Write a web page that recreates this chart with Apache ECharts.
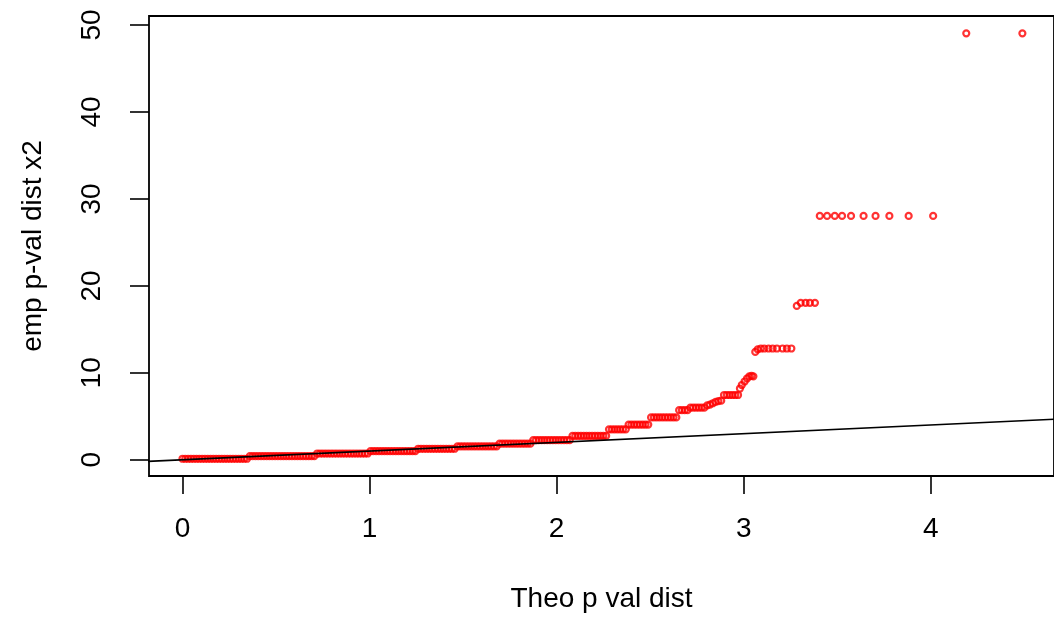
<!DOCTYPE html>
<html>
<head>
<meta charset="utf-8">
<script src="https://cdn.jsdelivr.net/npm/echarts@6/dist/echarts.min.js"></script>
<style>
  html, body { margin: 0; padding: 0; background: #ffffff; }
  #chart { width: 1054px; height: 618px; }
</style>
</head>
<body>
<div id="chart"></div>
<script>
// Tick positions on both axes
const xTicks = [0, 1, 2, 3, 4];
const yTicks = [0, 10, 20, 30, 40, 50];

// Dense part of the QQ plot: each empirical level and the theoretical quantiles that sit on it
const bandLevels = [0.12, 0.42, 0.72, 1.00, 1.27, 1.55, 1.85, 2.25, 2.75, 3.5, 4.05, 4.87, 5.7, 6.0, 7.45];
const bandX = [
  [0.000,0.015,0.030,0.045,0.060,0.075,0.090,0.105,0.120,0.135,0.150,0.165,0.180,0.195,0.210,0.225,0.240,0.255,0.270,0.285,0.300,0.315,0.330,0.345],
  [0.360,0.375,0.390,0.405,0.420,0.435,0.450,0.465,0.480,0.495,0.510,0.525,0.540,0.555,0.570,0.585,0.600,0.615,0.630,0.645,0.660,0.675,0.690,0.705],
  [0.720,0.735,0.750,0.765,0.780,0.795,0.810,0.825,0.840,0.855,0.870,0.885,0.900,0.915,0.930,0.945,0.960,0.975,0.990],
  [1.005,1.020,1.035,1.050,1.065,1.080,1.095,1.110,1.125,1.140,1.155,1.170,1.185,1.200,1.215,1.230,1.245],
  [1.260,1.275,1.290,1.305,1.320,1.335,1.350,1.365,1.380,1.395,1.410,1.425,1.440,1.455],
  [1.470,1.485,1.500,1.515,1.530,1.545,1.560,1.575,1.590,1.605,1.620,1.635,1.650,1.665,1.680],
  [1.695,1.710,1.725,1.740,1.755,1.770,1.785,1.800,1.815,1.830,1.845,1.860],
  [1.875,1.890,1.905,1.920,1.935,1.950,1.965,1.980,1.995,2.010,2.025,2.040,2.055,2.070],
  [2.085,2.100,2.115,2.130,2.145,2.160,2.175,2.190,2.205,2.220,2.235,2.250,2.265],
  [2.280,2.295,2.310,2.325,2.340,2.355,2.370],
  [2.385,2.400,2.415,2.430,2.445,2.460,2.475,2.490],
  [2.505,2.520,2.535,2.550,2.565,2.580,2.595,2.610,2.625,2.640],
  [2.655,2.670,2.685,2.700],
  [2.715,2.730,2.745,2.760,2.775,2.790],
  [2.895,2.910,2.925,2.940,2.955,2.970]
];

// Sparse upper tail, point by point
const tailX = [2.805, 2.820, 2.835, 2.850, 2.865, 2.880,
               2.980, 2.990, 3.005, 3.018, 3.030, 3.042, 3.052,
               3.062, 3.075, 3.092, 3.110, 3.133, 3.155, 3.178, 3.208, 3.231, 3.255,
               3.284, 3.305, 3.331, 3.354, 3.381,
               3.407, 3.446, 3.487, 3.526, 3.574, 3.641, 3.705, 3.779, 3.882, 4.013,
               4.190, 4.490];
const tailY = [6.25, 6.35, 6.50, 6.65, 6.75, 6.80,
               8.2, 8.6, 9.0, 9.35, 9.6, 9.65, 9.6,
               12.4, 12.7, 12.8, 12.8, 12.8, 12.8, 12.8, 12.8, 12.8, 12.8,
               17.7, 18.05, 18.05, 18.05, 18.05,
               28.05, 28.05, 28.05, 28.05, 28.05, 28.05, 28.05, 28.05, 28.05, 28.05,
               49.05, 49.05];

// Reference line y = x
const refLine = [[-0.5, -0.5], [5.0, 5.0]];

const qqPoints = [];
bandX.forEach((xs, i) => xs.forEach(x => qqPoints.push([x, bandLevels[i]])));
tailX.forEach((x, i) => qqPoints.push([x, tailY[i]]));

const FONT = "'Liberation Sans', Arial, sans-serif";
const FS = 28;

const chart = echarts.init(document.getElementById('chart'), null, { renderer: 'canvas' });
chart.setOption({
  animation: false,
  backgroundColor: '#ffffff',
  grid: {
    left: 149, top: 16, width: 911, height: 462,
    show: true, borderColor: '#000000', borderWidth: 1.8,
    containLabel: false
  },
  xAxis: {
    type: 'value',
    min: -0.179, max: 4.659,
    axisLine: { show: false, onZero: false },
    splitLine: { show: false },
    axisTick: { show: true, customValues: xTicks, length: 18, lineStyle: { color: '#000', width: 1.6 } },
    axisLabel: { customValues: xTicks, fontSize: FS, color: '#000', fontFamily: FONT, margin: 39 },
    name: 'Theo p val dist',
    nameLocation: 'middle',
    nameGap: 109,
    nameTextStyle: { fontSize: FS, color: '#000', fontFamily: FONT }
  },
  yAxis: {
    type: 'value',
    min: -1.866, max: 51.04,
    axisLine: { show: false, onZero: false },
    splitLine: { show: false },
    axisTick: { show: true, customValues: yTicks, length: 19, lineStyle: { color: '#000', width: 1.6 } },
    axisLabel: { customValues: yTicks, rotate: 90, fontSize: FS, color: '#000', fontFamily: FONT, margin: 43 },
    name: 'emp p-val dist x2',
    nameLocation: 'middle',
    nameRotate: 90,
    nameGap: 102,
    nameTextStyle: { fontSize: FS, color: '#000', fontFamily: FONT }
  },
  series: [
    {
      type: 'scatter',
      data: qqPoints,
      symbol: 'circle',
      symbolSize: 6,
      itemStyle: { color: 'rgba(0,0,0,0)', borderColor: '#ff0000', borderWidth: 2.2 },
      z: 2
    },
    {
      type: 'line',
      data: refLine,
      showSymbol: false,
      clip: true,
      lineStyle: { color: '#000000', width: 1.6 },
      z: 3
    }
  ]
});
</script>
</body>
</html>
